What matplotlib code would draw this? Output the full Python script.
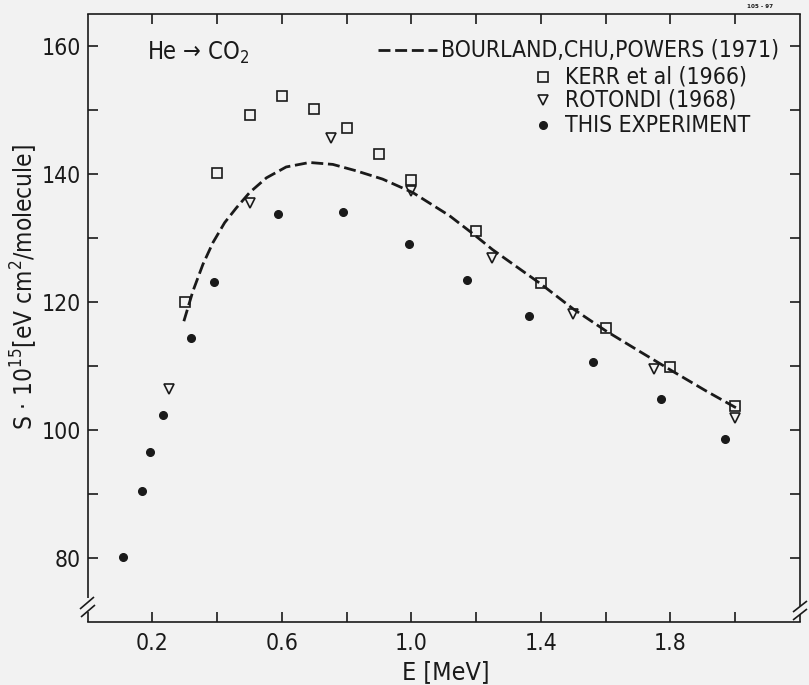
import matplotlib
matplotlib.use("Agg")
import matplotlib.pyplot as plt
from matplotlib.lines import Line2D

plt.rcParams['font.family'] = ['DejaVu Sans']
plt.rcParams['font.stretch'] = 'condensed'
plt.rcParams['mathtext.fontset'] = 'custom'
plt.rcParams['mathtext.rm'] = 'DejaVu Sans:stretch=condensed'
plt.rcParams['mathtext.it'] = 'DejaVu Sans:stretch=condensed'
plt.rcParams['mathtext.bf'] = 'DejaVu Sans:stretch=condensed:bold'

# ---------------- data ----------------
curve_E = [0.297, 0.325, 0.356, 0.387, 0.423, 0.459, 0.5, 0.552, 0.613, 0.685, 0.757,
           0.829, 0.911, 1.004, 1.117, 1.194, 1.25, 1.4, 1.5, 1.6, 1.704, 1.806, 1.91, 2.012]
curve_S = [117.0, 121.7, 125.9, 129.3, 132.4, 134.7, 137.1, 139.4, 141.1, 141.8, 141.5,
           140.5, 139.2, 137.1, 133.5, 130.5, 128.2, 122.8, 118.9, 115.5, 112.3, 109.2,
           106.1, 103.2]

kerr_E = [0.3, 0.4, 0.5, 0.6, 0.7, 0.8, 0.9, 1.0, 1.2, 1.4, 1.6, 1.8, 2.0]
kerr_S = [120.0, 140.2, 149.2, 152.2, 150.1, 147.2, 143.2, 139.1, 131.1, 123.0, 116.0, 109.8, 103.8]

rot_E = [0.25, 0.5, 0.75, 1.0, 1.25, 1.5, 1.75, 2.0]
rot_S = [106.4, 135.4, 145.6, 137.3, 126.8, 118.2, 109.5, 101.8]

exp_E = [0.108, 0.168, 0.193, 0.232, 0.319, 0.39, 0.587, 0.789, 0.991, 1.17,
         1.364, 1.561, 1.771, 1.969]
exp_S = [80.2, 90.5, 96.6, 102.3, 114.4, 123.2, 133.75, 134.1, 129.1, 123.5,
         117.8, 110.7, 104.9, 98.6]

xtick_values = [0.2, 0.4, 0.6, 0.8, 1.0, 1.2, 1.4, 1.6, 1.8, 2.0]
xtick_labels = ['0.2', '', '0.6', '', '1.0', '', '1.4', '', '1.8', '']
ytick_values = [80, 90, 100, 110, 120, 130, 140, 150, 160]
ytick_labels = ['80', '', '100', '', '120', '', '140', '', '160']

legend_labels = ['BOURLAND,CHU,POWERS (1971)', 'KERR et al (1966)',
                 'ROTONDI (1968)', 'THIS EXPERIMENT']

# ---------------- figure ----------------
BG = '#f2f2f2'
INK = '#1a1a1a'
W, H = 809, 685
fig = plt.figure(figsize=(W / 100, H / 100), dpi=100, facecolor=BG)
L, R, T, B = 87.7, 800.0, 14.0, 622.0
ax = fig.add_axes([L / W, 1 - B / H, (R - L) / W, (B - T) / H], facecolor=BG)
ax.set_xlim(0, 2.2)
ax.set_ylim(70, 165)

def axfrac(px, py):
    return ((px - L) / (R - L), (B - py) / (B - T))

dash = (4.3, 1.7)
ax.plot(curve_E, curve_S, color=INK, lw=2.0, dashes=dash, solid_joinstyle='round')
ax.plot(kerr_E, kerr_S, ls='none', marker='s', ms=6.5, mfc='none', mec=INK, mew=1.2)
ax.plot(rot_E, rot_S, ls='none', marker='v', ms=7, mfc='none', mec=INK, mew=1.2)
ax.plot(exp_E, exp_S, ls='none', marker='o', ms=5.5, mfc=INK, mec=INK)

# ticks
ax.set_xticks(xtick_values)
ax.set_xticklabels(xtick_labels)
ax.set_yticks(ytick_values)
ax.set_yticklabels(ytick_labels)
ax.tick_params(axis='both', direction='in', length=7, width=1.2, colors=INK,
               labelsize=16.5, top=True, right=True)
ax.tick_params(axis='x', pad=7)
ax.tick_params(axis='y', pad=5)

for s in ['top', 'bottom']:
    ax.spines[s].set_linewidth(1.2)
    ax.spines[s].set_color(INK)
ax.spines['left'].set_visible(False)
ax.spines['right'].set_visible(False)

# side spines with axis breaks
kw = dict(transform=ax.transAxes, color=INK, lw=1.2, clip_on=False, solid_capstyle='butt')
for xs, gap_top, gap_bot in [(L, 598, 612), (R, 606, 614)]:
    x0, _ = axfrac(xs, 0)
    ax.plot([x0, x0], [axfrac(0, gap_top)[1], 1.0], **kw)
    ax.plot([x0, x0], [0.0, axfrac(0, gap_bot)[1]], **kw)
for (xa, ya, xb, yb) in [(80, 609, 94, 597), (81, 617, 95, 605),
                         (793, 612, 807, 601), (793, 620, 807, 609)]:
    p, q = axfrac(xa, ya), axfrac(xb, yb)
    ax.plot([p[0], q[0]], [p[1], q[1]], **kw)

# legend (manual)
fs_leg = 16.5
y1 = axfrac(0, 50)[1]
a, _ = axfrac(378, 0)
b, _ = axfrac(437, 0)
ax.add_line(Line2D([a, b], [y1, y1], transform=ax.transAxes, color=INK, lw=2.0,
                   dashes=dash, clip_on=False))
ax.text(axfrac(441, 0)[0], y1, legend_labels[0], transform=ax.transAxes,
        fontsize=fs_leg, va='center', ha='left', color=INK)
mk = [dict(marker='s', ms=6.5, mfc='none', mec=INK, mew=1.2),
      dict(marker='v', ms=7, mfc='none', mec=INK, mew=1.2),
      dict(marker='o', ms=5.5, mfc=INK, mec=INK)]
for i, py in enumerate([77, 100, 125]):
    yy = axfrac(0, py)[1]
    ax.plot([axfrac(543, 0)[0]], [yy], ls='none', transform=ax.transAxes,
            clip_on=False, **mk[i])
    ax.text(axfrac(565, 0)[0], yy, legend_labels[i + 1], transform=ax.transAxes,
            fontsize=fs_leg, va='center', ha='left', color=INK)

# annotation
ax.text(axfrac(147, 0)[0], axfrac(0, 60)[1], 'He \u2192 CO$_2$', transform=ax.transAxes,
        fontsize=17, va='baseline', ha='left', color=INK)

# axis labels
fig.text(446 / W, 1 - 672 / H, 'E [MeV]', fontsize=18, ha='center', va='center', color=INK)
fig.text(24 / W, 1 - 287 / H, r'S $\cdot$ 10$^{15}$[eV cm$^{2}$/molecule]', fontsize=17.5,
         rotation=90, ha='center', va='center', color=INK)

fig.text(760 / W, 1 - 6 / H, '105 - 97', fontsize=4.5, fontweight='bold',
         ha='center', va='center', color=INK)

fig.savefig('out.png', dpi=100, facecolor=BG)
